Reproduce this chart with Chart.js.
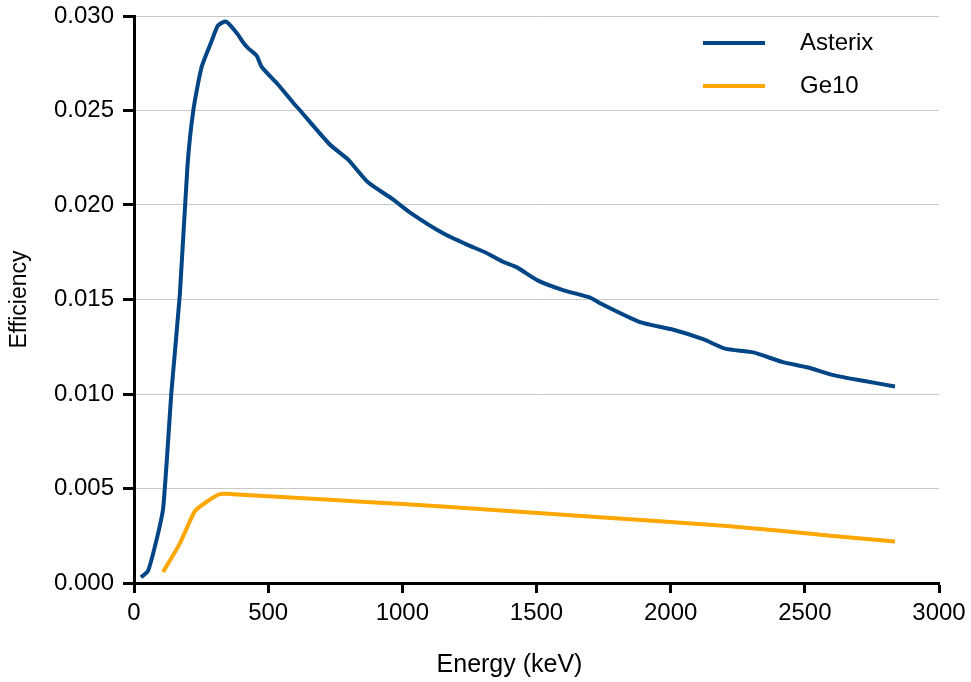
<!DOCTYPE html>
<html>
<head>
<meta charset="utf-8">
<script src="https://cdn.jsdelivr.net/npm/chart.js@4/dist/chart.umd.min.js"></script>
<style>
	html, body { margin: 0; padding: 0; background: #fff; }
	#wrap { width: 971px; height: 682px; }
</style>
</head>
<body>
<div id="wrap"><canvas id="effChart" width="971" height="682"></canvas></div>
<script>
// energy (keV) / efficiency pairs
const asterixEnergy = [26, 52, 86, 109, 140, 171, 199, 221, 252, 290, 313, 343, 383, 407, 425, 457, 476, 535, 594, 619, 730, 798, 872, 965, 1029, 1152, 1241, 1308, 1375, 1427, 1506, 1599, 1700, 1737, 1886, 2010, 2121, 2203, 2308, 2415, 2513, 2606, 2717, 2836];
const asterixEff = [0.0003, 0.00063, 0.0024, 0.0040, 0.0102, 0.0153, 0.0220, 0.0250, 0.0273, 0.0287, 0.0295, 0.0297, 0.0291, 0.0286, 0.0283, 0.0279, 0.0273, 0.0264, 0.0254, 0.0250, 0.0232, 0.0224, 0.0212, 0.0203, 0.0196, 0.0185, 0.0179, 0.0175, 0.0170, 0.0167, 0.0160, 0.0155, 0.0151, 0.0148, 0.0138, 0.0134, 0.0129, 0.0124, 0.0122, 0.0117, 0.0114, 0.0110, 0.0107, 0.0104];
const ge10Energy = [108, 171, 227, 271, 320, 369, 730, 1000, 1300, 1737, 2209, 2606, 2836];
const ge10Eff = [0.00058, 0.0021, 0.0038, 0.0043, 0.0047, 0.0047, 0.0044, 0.00418, 0.0039, 0.00348, 0.00302, 0.00249, 0.00219];
const seriesNames = ["Asterix", "Ge10"];
const seriesColors = ["#004586", "#ffa600"];
const xTitle = "Energy (keV)";

const fontFam = '"Liberation Sans", Arial, sans-serif';

function toPoints(xs, ys) {
	let pts = [];
	xs.forEach(function (x, i) {
		pts.push({ x: x, y: ys[i] });
	});
	return pts;
}

// legend inside the plot (top right) and the x title, a bit left of centre
const extraText = {
	id: 'extraText',
	afterDraw: function (chart) {
		let ctx = chart.ctx;
		let ca = chart.chartArea;
		ctx.save();
		chart.data.datasets.forEach(function (ds, i) {
			let y = ca.top + 27 + i * 43;
			ctx.strokeStyle = ds.borderColor;
			ctx.lineWidth = 4;
			ctx.beginPath();
			ctx.moveTo(ca.right - 236, y);
			ctx.lineTo(ca.right - 174, y);
			ctx.stroke();
			ctx.fillStyle = '#000';
			ctx.font = '24px ' + fontFam;
			ctx.textAlign = 'left';
			ctx.textBaseline = 'middle';
			ctx.fillText(ds.label, ca.right - 139, y);
		});
		ctx.font = '25px ' + fontFam;
		ctx.textAlign = 'center';
		ctx.textBaseline = 'middle';
		ctx.fillText(xTitle, (ca.left + ca.right) / 2 - 27, ca.bottom + 82);
		ctx.restore();
	}
};

const tickFont = { family: fontFam, size: 24 };

var ctx = document.getElementById('effChart').getContext('2d');
let chart = new Chart(ctx, {
	type: 'line',
	data: {
		datasets: [{
			label: seriesNames[0],
			data: toPoints(asterixEnergy, asterixEff),
			borderColor: seriesColors[0],
			backgroundColor: seriesColors[0],
			borderWidth: 4,
			pointRadius: 0,
			tension: 0.2,
			fill: false
		}, {
			label: seriesNames[1],
			data: toPoints(ge10Energy, ge10Eff),
			borderColor: seriesColors[1],
			backgroundColor: seriesColors[1],
			borderWidth: 4,
			pointRadius: 0,
			tension: 0.2,
			fill: false
		}]
	},
	options: {
		responsive: false,
		animation: false,
		layout: { padding: { left: 0, top: 16, right: 32, bottom: 0 } },
		plugins: {
			legend: { display: false },
			tooltip: { enabled: false }
		},
		scales: {
			x: {
				type: 'linear',
				min: 0,
				max: 3000,
				ticks: {
					stepSize: 500, color: '#000', font: tickFont, padding: 6, maxRotation: 0,
					callback: function (v) { return String(v); }
				},
				grid: { drawOnChartArea: false, drawTicks: true, tickLength: 10, tickColor: '#000', tickWidth: 3 },
				border: { color: '#000', width: 3 },
				afterFit: function (scale) {
					scale.height = 99;
					scale.paddingLeft = 0;
					scale.paddingRight = 0;
				}
			},
			y: {
				type: 'linear',
				min: 0,
				max: 0.03,
				ticks: {
					stepSize: 0.005, color: '#000', font: tickFont, padding: 9,
					callback: function (v) { return v.toFixed(3); }
				},
				grid: { color: '#c8c8c8', lineWidth: 1, tickLength: 11, tickColor: '#000', tickWidth: 3 },
				border: { color: '#000', width: 3 },
				title: { display: true, text: 'Efficiency', color: '#000', font: { family: fontFam, size: 23 }, padding: { top: 6, bottom: 0 } },
				afterFit: function (scale) {
					scale.width = 134;
					scale.paddingTop = 0;
					scale.paddingBottom = 0;
				}
			}
		}
	},
	plugins: [extraText]
});
</script>
</body>
</html>
